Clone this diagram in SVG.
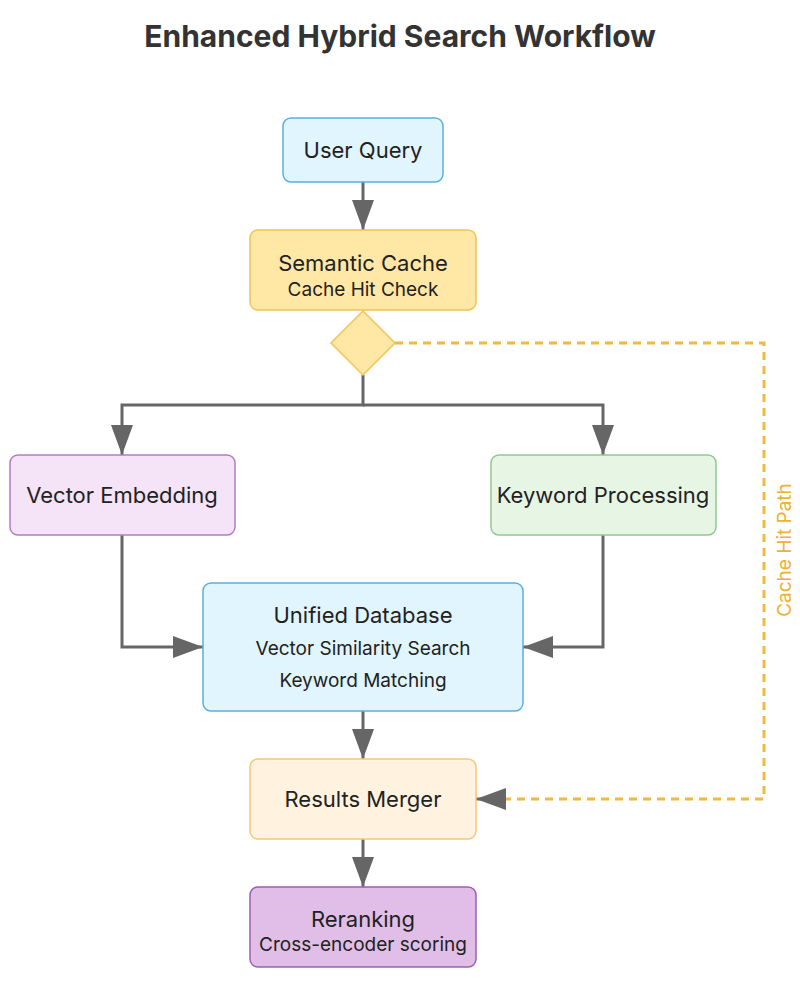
<svg xmlns="http://www.w3.org/2000/svg" width="800" height="1000" viewBox="0 0 800 1000">
<style>
  text { font-family: Inter, "Noto Sans", "Liberation Sans", sans-serif; fill: #222; text-anchor: middle; }
  .title { font-size: 30px; font-weight: 700; fill: #333; }
  .main { font-size: 22px; }
  .sub { font-size: 19px; }
  .edge { fill: none; stroke: #666; stroke-width: 3; }
  .dash { fill: none; stroke: #f4b73f; stroke-width: 3; stroke-dasharray: 8 6; }
</style>
<defs>
  <marker id="arr" viewBox="0 0 30 22" refX="30" refY="11" markerWidth="30" markerHeight="22" markerUnits="userSpaceOnUse" orient="auto">
    <path d="M0,0 L30,11 L0,22 Z" fill="#666"/>
  </marker>
</defs>
<rect width="800" height="1000" fill="#fff"/>
<text class="title" x="400" y="47">Enhanced Hybrid Search Workflow</text>

<g id="connectors">
  <line class="edge" x1="363" y1="182" x2="363" y2="230" marker-end="url(#arr)"/>
  <polyline class="edge" points="363,375 363,405 122,405 122,455" marker-end="url(#arr)"/>
  <polyline class="edge" points="363,405 603,405 603,455" marker-end="url(#arr)"/>
  <polyline class="edge" points="122,535 122,647 203,647" marker-end="url(#arr)"/>
  <polyline class="edge" points="603,535 603,647 523,647" marker-end="url(#arr)"/>
  <line class="edge" x1="363" y1="711" x2="363" y2="759" marker-end="url(#arr)"/>
  <line class="edge" x1="363" y1="839" x2="363" y2="887" marker-end="url(#arr)"/>
  <polyline class="dash" points="395,343 764,343 764,799 504,799"/>
  <line x1="505" y1="799" x2="476" y2="799" stroke="#666" stroke-width="3" marker-end="url(#arr)"/>
  <text x="791" y="550" transform="rotate(-90 791 550)" font-size="19" style="fill:#f0b030">Cache Hit Path</text>
</g>

<g id="user-query">
  <rect x="283" y="118" width="160" height="64" rx="8" fill="#e1f5fe" stroke="#5aaee0" stroke-width="1.5"/>
  <text class="main" x="363" y="158">User Query</text>
</g>
<g id="semantic-cache">
  <rect x="250" y="230" width="226" height="80" rx="8" fill="#ffe7a6" stroke="#f0c455" stroke-width="1.5"/>
  <text class="main" x="363" y="271">Semantic Cache</text>
  <text class="sub" x="363" y="296">Cache Hit Check</text>
</g>
<g id="cache-decision">
  <polygon points="363,311 395,343 363,375 331,343" fill="#ffe7a6" stroke="#f0c455" stroke-width="1.5"/>
</g>
<g id="vector-embedding">
  <rect x="10" y="455" width="225" height="80" rx="8" fill="#f5e3f7" stroke="#b47cc4" stroke-width="1.5"/>
  <text class="main" x="122" y="503">Vector Embedding</text>
</g>
<g id="keyword-processing">
  <rect x="491" y="455" width="225" height="80" rx="8" fill="#e6f5e4" stroke="#90c990" stroke-width="1.5"/>
  <text class="main" x="603" y="503">Keyword Processing</text>
</g>
<g id="unified-database">
  <rect x="203" y="583" width="320" height="128" rx="8" fill="#e1f5fe" stroke="#5aaee0" stroke-width="1.5"/>
  <text class="main" x="363" y="623">Unified Database</text>
  <text class="sub" x="363" y="655">Vector Similarity Search</text>
  <text class="sub" x="363" y="687">Keyword Matching</text>
</g>
<g id="results-merger">
  <rect x="250" y="759" width="226" height="80" rx="8" fill="#fff3e0" stroke="#f4c77b" stroke-width="1.5"/>
  <text class="main" x="363" y="807">Results Merger</text>
</g>
<g id="reranking">
  <rect x="250" y="887" width="226" height="80" rx="8" fill="#e1bee7" stroke="#9c5fb0" stroke-width="1.5"/>
  <text class="main" x="363" y="927">Reranking</text>
  <text class="sub" x="363" y="951">Cross-encoder scoring</text>
</g>
</svg>
